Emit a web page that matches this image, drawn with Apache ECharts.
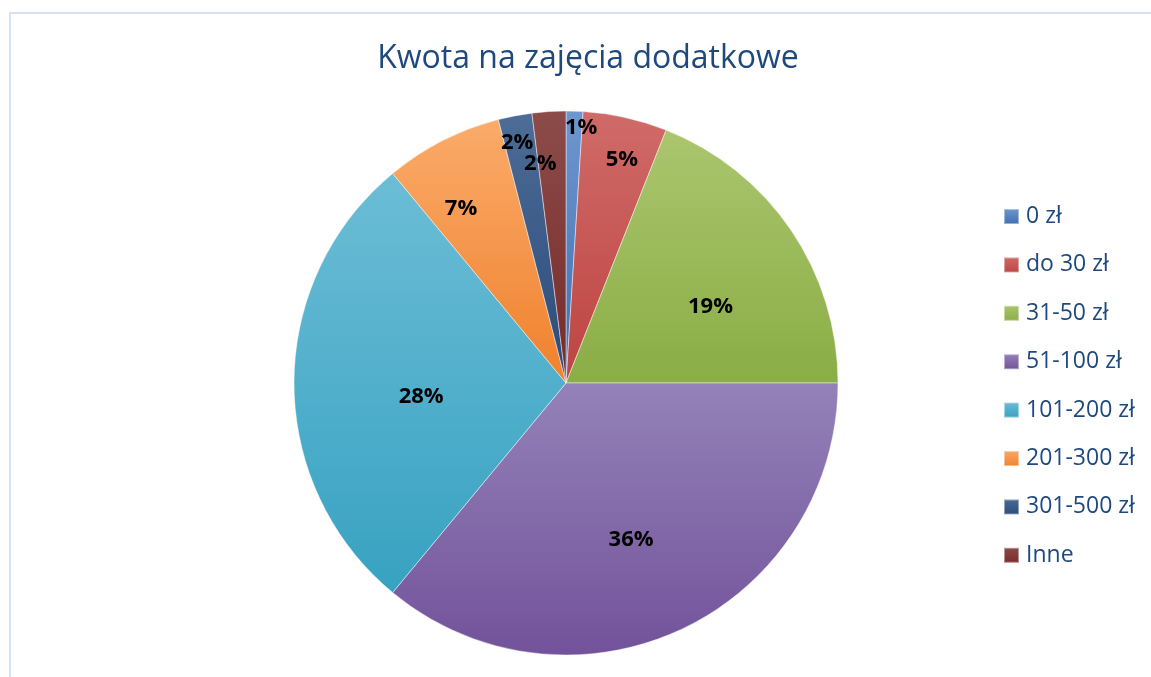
<!DOCTYPE html>
<html>
<head>
<meta charset="utf-8">
<script src="https://cdn.jsdelivr.net/npm/echarts@6/dist/echarts.min.js"></script>
<style>
  html, body { margin: 0; padding: 0; background: #fff; }
  #chart { width: 1151px; height: 677px; }
</style>
</head>
<body>
<div id="chart"></div>
<script>
var categories = ['0 zł', 'do 30 zł', '31-50 zł', '51-100 zł', '101-200 zł', '201-300 zł', '301-500 zł', 'Inne'];
var shares = [1, 5, 19, 36, 28, 7, 2, 2];
var topColors = ['#6f97cf', '#d06b69', '#abc66e', '#9482b9', '#6cbdd6', '#fbab6a', '#4d6c97', '#8c4c4a'];
var bottomColors = ['#3e6fb0', '#bd4441', '#8aad45', '#72529a', '#37a2c1', '#ef812d', '#2a4a79', '#772a28'];
// where each percentage label sits: fraction of radius, and a small turn in degrees
var labelDist = [0.94, 0.845, 0.6, 0.625, 0.535, 0.747, 0.9, 0.81];
var labelTurn = [1.6, 1.5, 6.5, 2.7, -5.5, -4.1, -0.7, -3.1];

var cx = 566, cy = 383, R = 272;

var chart = echarts.init(document.getElementById('chart'));

var total = shares.reduce(function (a, b) { return a + b; }, 0);
var data = categories.map(function (name, i) {
    return {
        name: name,
        value: shares[i],
        itemStyle: {
            color: {
                type: 'linear', x: 0, y: 0, x2: 0, y2: 1,
                colorStops: [
                    { offset: 0, color: topColors[i] },
                    { offset: 1, color: bottomColors[i] }
                ]
            }
        }
    };
});

function midAngle(idx) {
    var before = 0;
    for (var i = 0; i < idx; i++) before += shares[i];
    return (before + shares[idx] / 2) / total * Math.PI * 2 + labelTurn[idx] * Math.PI / 180;
}

var option = {
    backgroundColor: '#ffffff',
    animation: false,
    color: bottomColors,
    graphic: [{
        type: 'rect',
        shape: { x: 10, y: 13, width: 1300, height: 800 },
        style: { fill: 'none', stroke: '#d5e2f3', lineWidth: 2 }
    }],
    title: {
        text: 'Kwota na zajęcia dodatkowe',
        left: 583,
        top: 38,
        textAlign: 'center',
        textStyle: {
            fontFamily: 'Open Sans',
            fontSize: 32,
            fontWeight: 'normal',
            color: '#1f497d'
        }
    },
    legend: {
        orient: 'vertical',
        left: 1003,
        top: 205,
        padding: 0,
        itemWidth: 15,
        itemHeight: 15,
        itemGap: 25.4,
        icon: 'rect',
        data: categories,
        textStyle: {
            fontFamily: 'Open Sans',
            fontSize: 23,
            lineHeight: 22,
            color: '#1f497d',
            padding: [0, 0, 0, 2]
        }
    },
    series: [{
        type: 'pie',
        center: [cx, cy],
        radius: [0, R],
        startAngle: 90,
        clockwise: true,
        avoidLabelOverlap: false,
        itemStyle: {
            borderColor: 'rgba(255,255,255,0.45)',
            borderWidth: 1
        },
        label: {
            show: true,
            position: 'inside',
            formatter: function (p) { return p.value + '%'; },
            fontFamily: 'Open Sans',
            fontWeight: 'bold',
            fontSize: 22,
            color: '#000',
            align: 'center',
            verticalAlign: 'middle'
        },
        labelLine: { show: false },
        labelLayout: function (params) {
            var a = midAngle(params.dataIndex);
            var d = R * labelDist[params.dataIndex];
            return {
                x: cx + Math.sin(a) * d,
                y: cy - Math.cos(a) * d,
                align: 'center',
                verticalAlign: 'middle'
            };
        },
        emphasis: { disabled: true },
        data: data
    }]
};

chart.setOption(option);
</script>
</body>
</html>
